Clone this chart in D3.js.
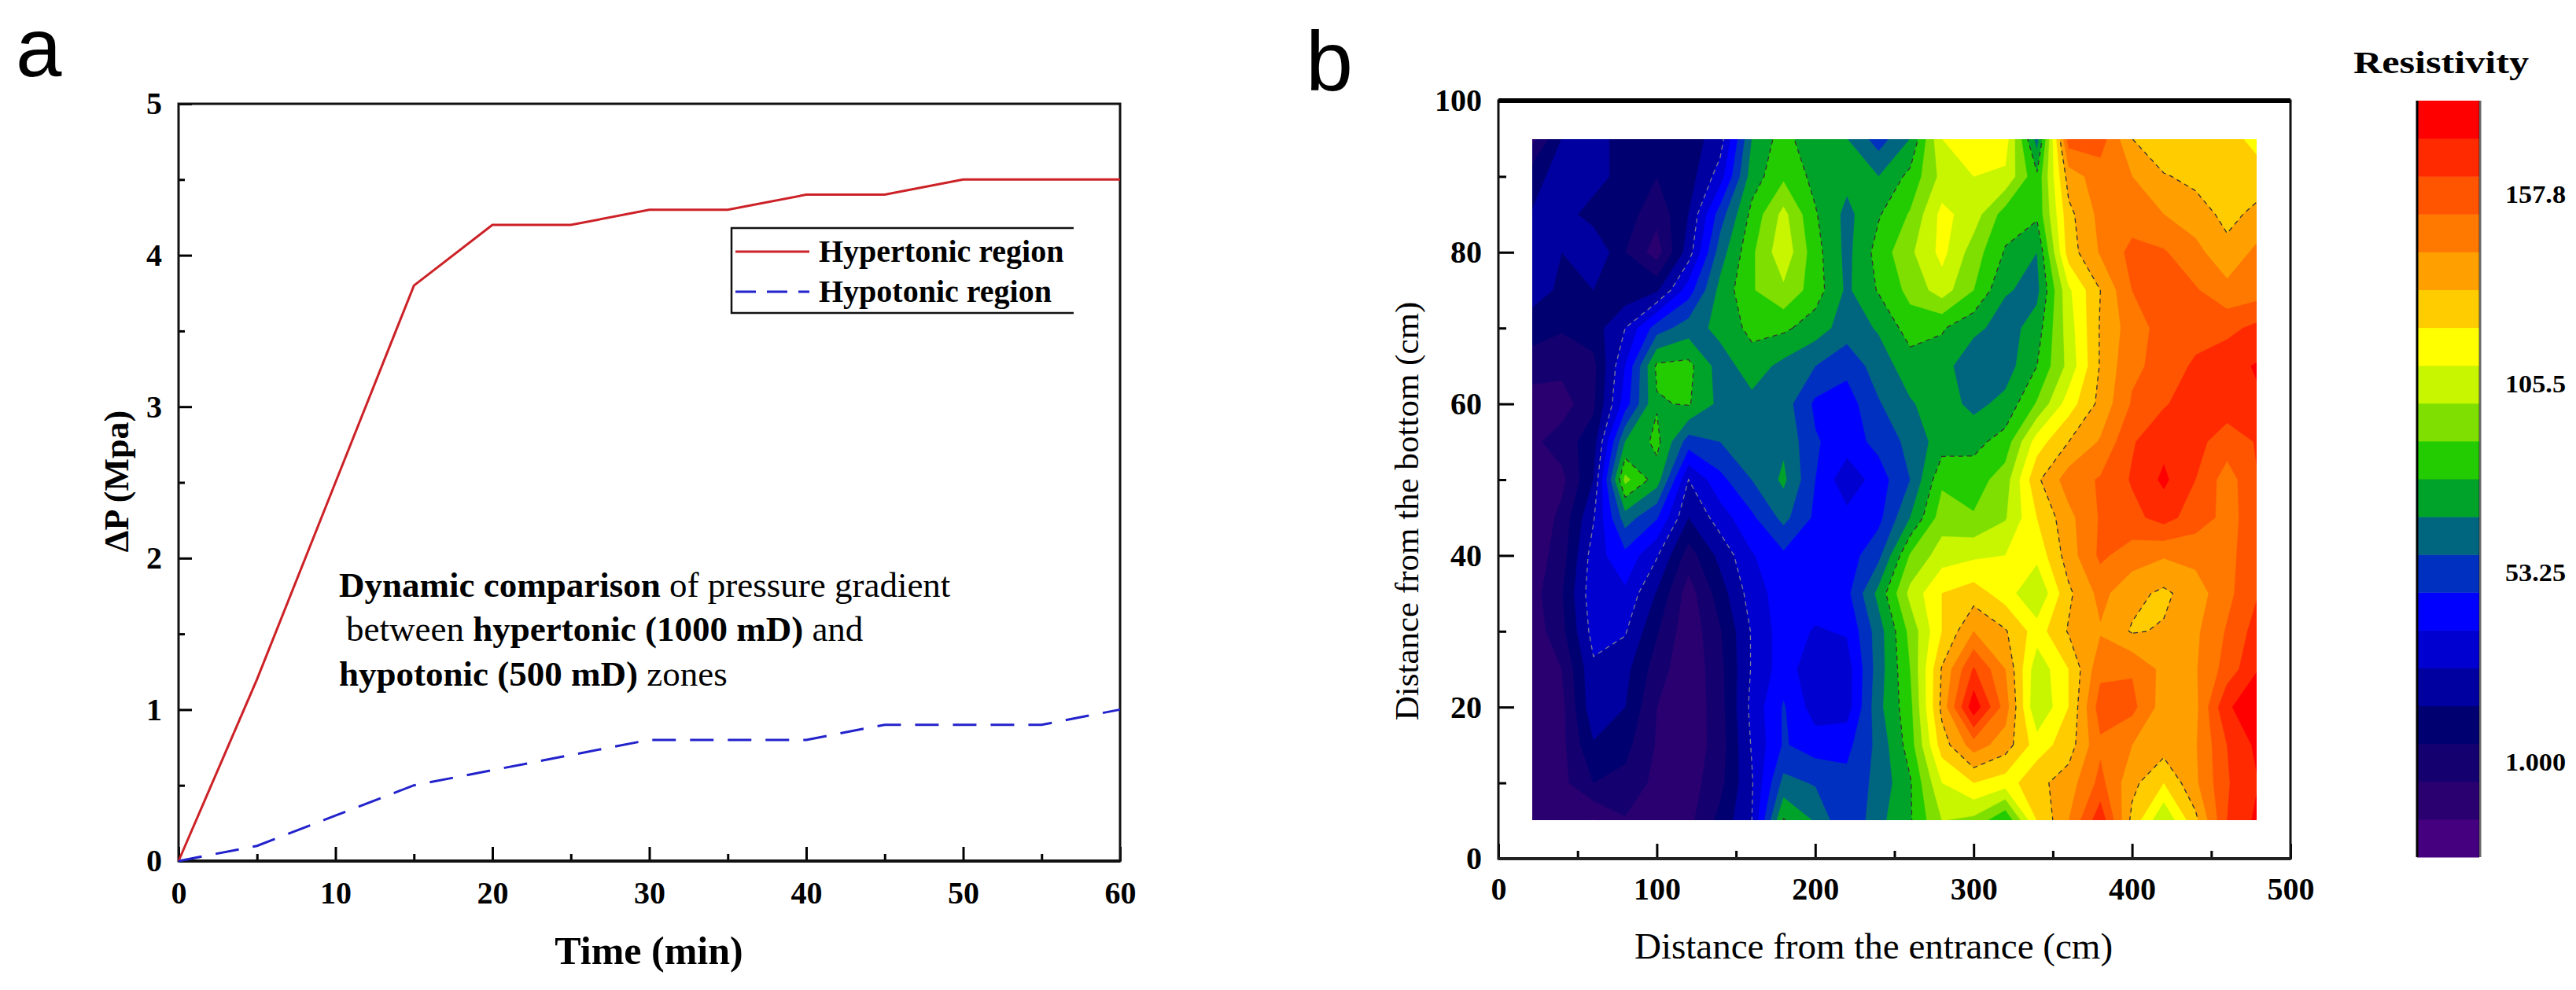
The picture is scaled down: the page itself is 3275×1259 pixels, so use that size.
<!DOCTYPE html>
<html>
<head>
<meta charset="utf-8">
<script src="https://cdn.jsdelivr.net/npm/d3@7"></script>
<style>
  html, body { margin: 0; background: #fff; }
  text { font-family: "Liberation Serif", serif; fill: #000; }
  .tick text { font-weight: bold; }
  .domain { display: none; }
</style>
</head>
<body>
<svg width="3275" height="1259"></svg>
<script>
// panel a
const timeMin = [0, 5, 10, 15, 20, 25, 30, 35, 40, 45, 50, 55, 60]
const hypertonic = [0, 1.2, 2.5, 3.8, 4.2, 4.2, 4.3, 4.3, 4.4, 4.4, 4.5, 4.5, 4.5]
const hypotonic = [0, 0.1, 0.3, 0.5, 0.6, 0.7, 0.8, 0.8, 0.8, 0.9, 0.9, 0.9, 1.0]

// panel b, grid positions in cm
const distEntrance = [20, 40, 60, 80, 100, 120, 140, 160, 180, 200, 220, 240, 260, 280, 300, 320, 340, 360, 380, 400, 420, 440, 460, 480]
const distBottom = [95, 90, 85, 80, 75, 70, 65, 60, 55, 50, 45, 40, 35, 30, 25, 20, 15, 10, 5]

const bandRows = [
  [1, 3.5, 4, 3, 3, 3, 4, 8.5, 10, 8.5, 8.5, 7, 8.5, 12.5, 13.5, 13, 8, 17, 17, 14.5, 13.5, 14.3, 14, 13],
  [3, 4, 4, 3, 2.5, 3, 5, 9, 10.3, 9.2, 8.8, 8.5, 9.8, 11.8, 12.5, 12.3, 9.7, 15, 16, 15.5, 14.6, 14.2, 14, 14],
  [3.5, 4, 3, 3, 1.8, 3.5, 7, 9.8, 11.8, 9.6, 8.2, 9.4, 10.6, 12.8, 12, 10, 9.7, 14.2, 15.8, 16, 15.5, 15, 14.2, 14.8],
  [4, 3.5, 4.5, 2.5, 1, 4, 8, 10.3, 12.2, 9.9, 8.2, 9.9, 11.3, 12.8, 11, 9.4, 8.5, 14, 15.6, 16.8, 16.6, 15.8, 14.8, 15.8],
  [4, 3.3, 3.5, 2.8, 3.3, 6, 8.8, 10.4, 11.3, 10, 8.3, 9.6, 10.8, 12, 10.5, 8.6, 8.2, 12.3, 14.5, 16.5, 17, 16.6, 15.8, 16],
  [3, 2.6, 3, 4.5, 7, 8, 8.8, 9.8, 9.7, 9, 8, 8.6, 10, 9.6, 8.8, 8, 9, 12, 14.6, 16, 16.9, 17, 17.2, 17.8],
  [2, 1.8, 2.2, 5.5, 9.7, 9.8, 8, 9, 8.2, 7.5, 6.8, 8, 9, 9, 7.6, 8, 9.5, 11.8, 14.6, 16.3, 16.8, 17.7, 18.2, 18.6],
  [1, 1, 2.3, 6, 9.4, 9.6, 8.2, 8.2, 8, 6.3, 6, 7.4, 8.4, 9, 8.2, 8.8, 10.6, 13, 14.8, 16.6, 17.4, 18, 18, 18.4],
  [1.2, 2, 3, 8.5, 9.8, 7, 7.5, 8.2, 8.3, 6.6, 6, 6.8, 7.8, 9, 9.2, 9.9, 13, 14.5, 15.6, 17.4, 18.2, 17.8, 17, 17.6],
  [0.5, 1.2, 3.5, 10.8, 9, 4.5, 6.2, 7.5, 8.7, 6.5, 4.8, 6, 7.5, 10.3, 10, 11, 14.3, 16, 16.6, 17.6, 18.7, 17.5, 16, 17.5],
  [0.5, 1.8, 4.4, 8, 6.6, 3.5, 5, 6.3, 7.8, 6.3, 5.8, 6.2, 8.5, 11, 10.6, 11.4, 13.5, 15.2, 16.6, 17.2, 17.9, 17, 16.2, 17],
  [0.8, 2, 5, 6.2, 4.6, 2, 3.8, 5.4, 6.3, 6, 6, 7.2, 10.6, 12, 12.3, 12.5, 12.8, 15, 16.7, 16, 15.6, 15.8, 16.2, 17.2],
  [1, 2.4, 5.2, 5.3, 3.4, 1, 3, 5, 6, 6, 6.2, 8.8, 11.8, 13.5, 14, 13, 11.5, 14.3, 15.8, 14.8, 14.3, 15, 16.2, 17.5],
  [0.8, 2.2, 4.9, 4.6, 2.6, 0.8, 2.4, 4.6, 6, 5.4, 5.6, 8, 10.8, 13.5, 15.5, 14.6, 13, 14.6, 15.4, 14.4, 14.6, 15.3, 16.6, 18],
  [0.6, 1.5, 4.3, 3.8, 2, 0.7, 2.2, 4.6, 6, 4.8, 5, 8, 10.5, 14.6, 17.6, 15.5, 11.8, 13.5, 16.2, 16.4, 15.2, 15.4, 16.9, 18.5],
  [0.5, 1.2, 4.2, 3.5, 1.5, 0.7, 2.1, 4.8, 6.6, 5, 5, 8.2, 10.2, 14.8, 19.2, 16, 11.5, 13.5, 17, 16.8, 15, 15.2, 18.4, 19],
  [0.7, 1.2, 3.4, 2.8, 1.4, 0.8, 2, 4.6, 6.6, 6, 6.2, 7.8, 10, 14, 16, 15, 13, 14, 16.3, 15.5, 15, 15.4, 17.5, 18.8],
  [0.8, 1.2, 2.5, 2.2, 1.2, 1, 2.2, 4.4, 7.8, 7.4, 6.8, 7.8, 9.4, 12.5, 13.5, 13, 14.2, 15, 16.8, 14.8, 13.5, 15.3, 17.4, 18.5],
  [0.7, 1, 0.4, 1.4, 0.8, 1.2, 2.8, 4.5, 9.6, 8.4, 6.5, 8.2, 9.4, 11.5, 11.2, 9.5, 13.5, 15.5, 18.2, 14.2, 11.5, 14.2, 17.5, 18.8]
]

// colour bar, bottom to top
const bandColors = ["#450080", "#2a0070", "#150070", "#000070", "#0000a0", "#0000d0", "#0000ff", "#0030c0", "#006680", "#00a32a", "#22cc00", "#7fdf00", "#c8f500", "#ffff00", "#ffcc00", "#ffa000", "#ff7800", "#ff5500", "#ff2a00", "#ff0000"]
const barTicks = [1.000, 53.25, 105.5, 157.8]
const barLabels = ["1.000", "53.25", "105.5", "157.8"]
const dashedBands = [4.5, 9.5, 14.5]
const dashedColors = ["#7a7a9a", "#333", "#333"]

// tick label position on the bar fixes the value of each band
const bandToValue = d3.scaleLinear().domain([2, 17]).range([1.0, 157.8])

var svg = d3.select("svg")

// ---------- panel a ----------
var xA = d3.scaleLinear().domain([0, 60]).range([227, 1424])
var yA = d3.scaleLinear().domain([0, 5]).range([1095, 132])

var gA = svg.append("g")

gA.append("g").attr("transform", "translate(0,1095)")
  .call(d3.axisBottom(xA).tickValues(d3.range(0, 61, 5).filter(d => d % 10)).tickSizeInner(-9).tickSizeOuter(0).tickFormat(""))
gA.append("g").attr("transform", "translate(0,1095)")
  .call(d3.axisBottom(xA).tickValues(d3.range(0, 61, 10)).tickSizeInner(-18).tickSizeOuter(0).tickPadding(26))
gA.append("g").attr("transform", "translate(227,0)")
  .call(d3.axisLeft(yA).tickValues([0.5, 1.5, 2.5, 3.5, 4.5]).tickSizeInner(-8).tickSizeOuter(0).tickFormat(""))
gA.append("g").attr("transform", "translate(227,0)")
  .call(d3.axisLeft(yA).tickValues([0, 1, 2, 3, 4, 5]).tickSizeInner(-17).tickSizeOuter(0).tickPadding(21).tickFormat(d3.format("d")))
gA.selectAll(".tick line").attr("stroke", "#000").attr("stroke-width", 3)
gA.selectAll(".tick text").attr("font-size", 40).style("font-family", "Liberation Serif")

gA.append("rect").attr("x", 227).attr("y", 132).attr("width", 1197).attr("height", 963)
  .attr("fill", "none").attr("stroke", "#111").attr("stroke-width", 3)
gA.append("line").attr("x1", 227).attr("x2", 1424).attr("y1", 1095).attr("y2", 1095)
  .attr("stroke", "#111").attr("stroke-width", 4)

var lineA = d3.line().x((d, i) => xA(timeMin[i])).y(d => yA(d))

gA.append("path").attr("d", lineA(hypertonic)).attr("fill", "none")
  .attr("stroke", "#cc2127").attr("stroke-width", 3)
gA.append("path").attr("d", lineA(hypotonic)).attr("fill", "none")
  .attr("stroke", "#2222cc").attr("stroke-width", 3).attr("stroke-dasharray", "30 18")

// legend has no right edge in the picture
gA.append("path").attr("d", "M1365,290H930V398H1365").attr("fill", "none").attr("stroke", "#111").attr("stroke-width", 2.5)
gA.append("line").attr("x1", 935).attr("x2", 1029).attr("y1", 320).attr("y2", 320)
  .attr("stroke", "#cc2127").attr("stroke-width", 3)
gA.append("line").attr("x1", 935).attr("x2", 1029).attr("y1", 371).attr("y2", 371)
  .attr("stroke", "#2222cc").attr("stroke-width", 3).attr("stroke-dasharray", "26 14")
gA.append("text").attr("x", 1041).attr("y", 333).attr("font-size", 40).attr("font-weight", "bold").text("Hypertonic region")
gA.append("text").attr("x", 1041).attr("y", 384).attr("font-size", 40).attr("font-weight", "bold").text("Hypotonic region")

function note(x, y, parts) {
  var t = gA.append("text").attr("x", x).attr("y", y).attr("font-size", 45)
  parts.forEach(p => t.append("tspan").attr("font-weight", p[1] ? "bold" : "normal").text(p[0]))
}
note(431, 759, [["Dynamic comparison", true], [" of pressure gradient", false]])
note(440, 815, [["between ", false], ["hypertonic (1000 mD)", true], [" and", false]])
note(431, 872, [["hypotonic (500 mD)", true], [" zones", false]])

gA.append("text").attr("x", 825).attr("y", 1226).attr("text-anchor", "middle")
  .attr("font-size", 50).attr("font-weight", "bold").text("Time (min)")
gA.append("text").attr("transform", "translate(163,612) rotate(-90)").attr("text-anchor", "middle")
  .attr("font-size", 44).attr("font-weight", "bold").text("ΔP (Mpa)")

svg.append("text").attr("x", 20).attr("y", 97).attr("font-size", 105)
  .style("font-family", "Liberation Sans").text("a")
svg.append("text").attr("x", 1660).attr("y", 115).attr("font-size", 108)
  .style("font-family", "Liberation Sans").text("b")

// ---------- panel b ----------
var xB = d3.scaleLinear().domain([0, 500]).range([1905, 2912])
var yB = d3.scaleLinear().domain([0, 100]).range([1092, 128])

var gB = svg.append("g")

svg.append("defs").append("clipPath").attr("id", "field")
  .append("rect").attr("x", 1948).attr("y", 177).attr("width", 921).attr("height", 866)

var nx = distEntrance.length
var ny = distBottom.length
var flat = bandRows.flat().map(d => bandToValue(d))

// contour grid units to data to pixels, samples sit at cell centres
var gridX = d3.scaleLinear().domain([0.5, nx - 0.5]).range([distEntrance[0], distEntrance[nx - 1]])
var gridY = d3.scaleLinear().domain([0.5, ny - 0.5]).range([distBottom[0], distBottom[ny - 1]])
var toPixels = d3.geoTransform({
  point: function (x, y) { this.stream.point(xB(gridX(x)), yB(gridY(y))) }
})
var pathB = d3.geoPath(toPixels)

var thresholds = d3.range(1, bandColors.length).map(k => bandToValue(k - 0.5))
var contours = d3.contours().size([nx, ny]).thresholds(thresholds)(flat)

var field = gB.append("g").attr("clip-path", "url(#field)")
field.append("rect").attr("x", 1948).attr("y", 177).attr("width", 921).attr("height", 866).attr("fill", bandColors[0])
field.selectAll("path.band").data(contours).join("path").attr("class", "band")
  .attr("d", pathB).attr("fill", (d, i) => bandColors[i + 1]).attr("stroke", (d, i) => bandColors[i + 1]).attr("stroke-width", 0.5)

var dashed = d3.contours().size([nx, ny]).thresholds(dashedBands.map(k => bandToValue(k)))(flat)
field.selectAll("path.dash").data(dashed).join("path").attr("class", "dash")
  .attr("d", pathB).attr("fill", "none").attr("stroke", (d, i) => dashedColors[i])
  .attr("stroke-width", 1.3).attr("stroke-dasharray", "6 5")

gB.append("g").attr("transform", "translate(0,1092)")
  .call(d3.axisBottom(xB).tickValues(d3.range(50, 500, 100)).tickSizeInner(-10).tickSizeOuter(0).tickFormat(""))
gB.append("g").attr("transform", "translate(0,1092)")
  .call(d3.axisBottom(xB).tickValues(d3.range(0, 501, 100)).tickSizeInner(-19).tickSizeOuter(0).tickPadding(24))
gB.append("g").attr("transform", "translate(1905,0)")
  .call(d3.axisLeft(yB).tickValues(d3.range(10, 100, 20)).tickSizeInner(-10).tickSizeOuter(0).tickFormat(""))
gB.append("g").attr("transform", "translate(1905,0)")
  .call(d3.axisLeft(yB).tickValues(d3.range(0, 101, 20)).tickSizeInner(-20).tickSizeOuter(0).tickPadding(21))
gB.selectAll(".tick line").attr("stroke", "#000").attr("stroke-width", 3)
gB.selectAll(".tick text").attr("font-size", 40).style("font-family", "Liberation Serif")

gB.append("rect").attr("x", 1905).attr("y", 128).attr("width", 1007).attr("height", 964)
  .attr("fill", "none").attr("stroke", "#111").attr("stroke-width", 3)
gB.append("line").attr("x1", 1905).attr("x2", 2912).attr("y1", 128).attr("y2", 128)
  .attr("stroke", "#000").attr("stroke-width", 6)
gB.append("line").attr("x1", 1905).attr("x2", 2912).attr("y1", 1092).attr("y2", 1092)
  .attr("stroke", "#222").attr("stroke-width", 4)

gB.append("text").attr("x", 2382).attr("y", 1219).attr("text-anchor", "middle")
  .attr("font-size", 47).text("Distance from the entrance (cm)")
gB.append("text").attr("transform", "translate(1803,650) rotate(-90)").attr("text-anchor", "middle")
  .attr("font-size", 43).text("Distance from the bottom (cm)")

// colour bar
var yBar = d3.scaleBand().domain(d3.range(bandColors.length)).range([1090, 128])
var gBar = svg.append("g")
gBar.selectAll("rect").data(bandColors).join("rect")
  .attr("x", 3073).attr("width", 79)
  .attr("y", (d, i) => yBar(i)).attr("height", yBar.bandwidth() + 0.5)
  .attr("fill", d => d)
gBar.append("line").attr("x1", 3073).attr("x2", 3073).attr("y1", 128).attr("y2", 1090)
  .attr("stroke", "#000").attr("stroke-width", 3)
gBar.append("line").attr("x1", 3153).attr("x2", 3153).attr("y1", 128).attr("y2", 1090)
  .attr("stroke", "#000").attr("stroke-width", 3).attr("stroke-opacity", 0.6)

barTicks.forEach((v, i) => {
  var k = bandToValue.invert(v)
  gBar.append("text").attr("x", 3185).attr("y", yBar(Math.round(k)) + yBar.bandwidth() / 2 + 10)
    .attr("font-size", 32).attr("font-weight", "bold")
    .attr("textLength", 77).attr("lengthAdjust", "spacingAndGlyphs").text(barLabels[i])
})
gBar.append("text").attr("x", 2992).attr("y", 93).attr("font-size", 40).attr("font-weight", "bold")
  .attr("textLength", 223).attr("lengthAdjust", "spacingAndGlyphs").text("Resistivity")
</script>
</body>
</html>
